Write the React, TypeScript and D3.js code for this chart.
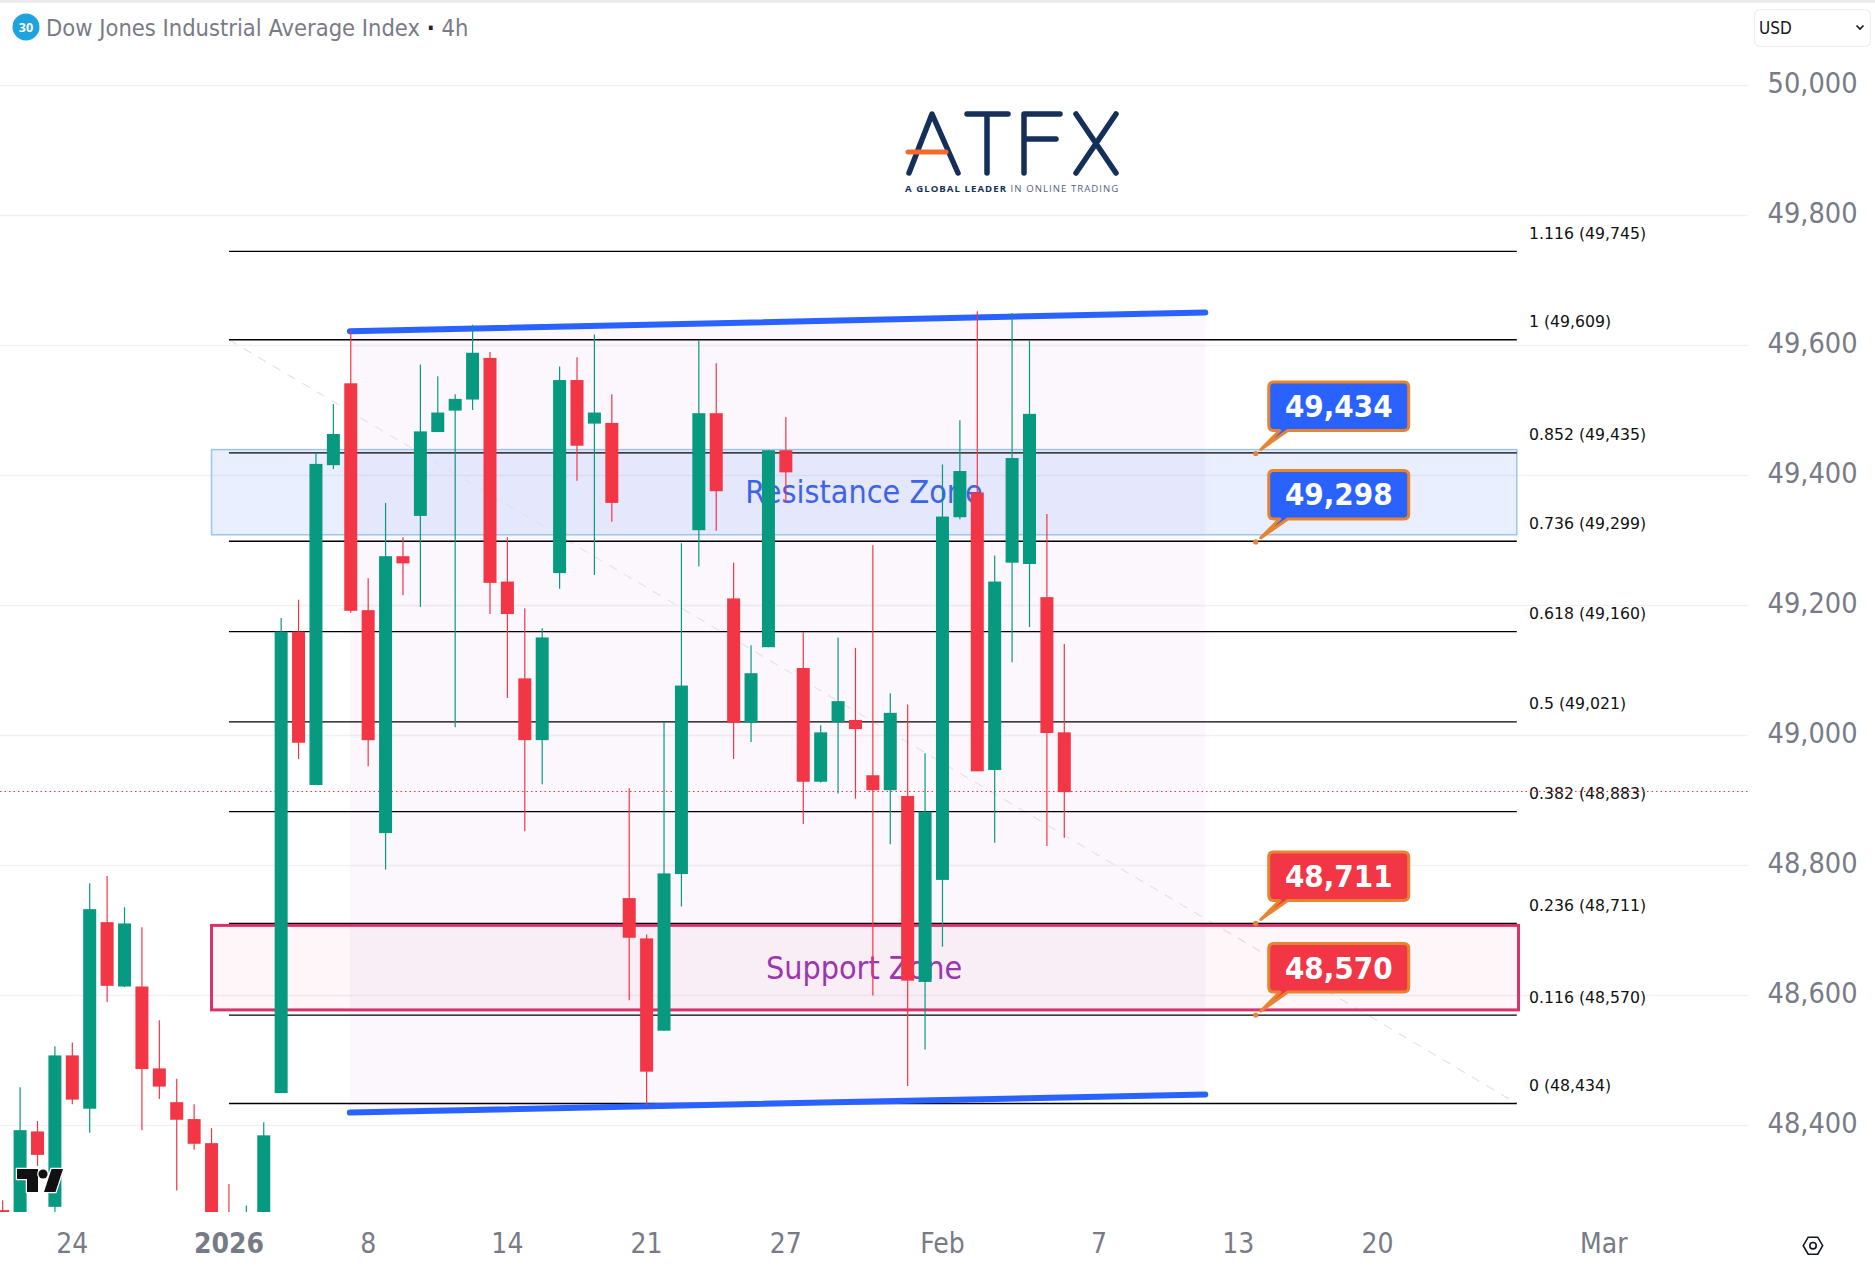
import * as d3 from "d3";

// 4h candles (index 0 is the left-most, cut off by the pane edge)
const opens = [48270, 48200, 48391, 48275, 48508, 48426, 48713, 48614, 48614, 48488, 48436, 48410, 48373, 48250, 48200, 48200,
    48450, 49160, 48924, 49416, 49542, 49193, 48850, 49276, 49338, 49467, 49500, 49517, 49581, 49237, 49088, 48993, 49250, 49547, 49480, 49481,
    48750, 48688, 48546, 48787, 49316, 49496, 49211, 49020, 49136, 49439, 49104, 48929, 49021, 49024, 48939, 48916, 48907, 48621, 48778, 49336,
    49374, 48947, 49266, 49264, 49213, 49005];
const highs = [48285, 48459, 48407, 48522, 48528, 48773, 48784, 48736, 48705, 48562, 48472, 48433, 48396, 48310, 48277, 48405,
    49181, 49209, 49435, 49510, 49623, 49242, 49358, 49305, 49571, 49553, 49525, 49632, 49590, 49305, 49196, 49165, 49568, 49582, 49617, 49525,
    48919, 48694, 49021, 49296, 49608, 49573, 49266, 49139, 49439, 49490, 49159, 49016, 49151, 49135, 49293, 49065, 49048, 48973, 49417, 49485,
    49653, 49277, 49650, 49608, 49341, 49141];
const lows = [48150, 48150, 48338, 48267, 48433, 48389, 48590, 48613, 48393, 48441, 48300, 48363, 48150, 48150, 48150, 48150,
    48450, 48964, 48924, 49410, 49189, 48953, 48794, 49216, 49198, 49467, 49013, 49501, 49187, 49058, 48853, 48925, 49226, 49392, 49247, 49329,
    48593, 48431, 48546, 48737, 49260, 49315, 48964, 48990, 49136, 49358, 48864, 48928, 48911, 48903, 48600, 48833, 48461, 48517, 48675, 49333,
    48945, 48835, 49113, 49167, 48830, 48843];
const closes = [48200, 48393, 48355, 48508, 48440, 48733, 48615, 48711, 48487, 48460, 48409, 48372, 48200, 48200, 48240, 48385,
    49160, 48989, 49418, 49464, 49192, 48993, 49276, 49265, 49468, 49497, 49518, 49589, 49235, 49187, 48993, 49151, 49547, 49446, 49497, 49358,
    48689, 48483, 48788, 49077, 49496, 49376, 49020, 49096, 49439, 49405, 48929, 49005, 49053, 49010, 48916, 49035, 48623, 48883, 49337, 49407,
    48945, 49237, 49427, 49495, 49004, 48913];

const priceTicks = [50000, 49800, 49600, 49400, 49200, 49000, 48800, 48600, 48400];
const timeTickIndex = [4, 13, 21, 29, 37, 45, 54, 63, 71, 79, 92];
const timeTickLabels = ["24", "2026", "8", "14", "21", "27", "Feb", "7", "13", "20", "Mar"];

const fibLevels = ["1.116", "1", "0.852", "0.736", "0.618", "0.5", "0.382", "0.236", "0.116", "0"];
const fibPrices = [49745, 49609, 49435, 49299, 49160, 49021, 48883, 48711, 48570, 48434];

const calloutPrices = [49434, 49298, 48711, 48570];
const calloutFills = ["#2962ff", "#2962ff", "#f23645", "#f23645"];

const channelTop: [number, number][] = [[19.95, 49622], [69.1, 49651]];
const channelBottom: [number, number][] = [[19.95, 48420], [69.1, 48448]];
const fibTrend: [number, number][] = [[13, 49609], [87, 48434]];
const resistanceZone = [49440, 49309];
const supportZone = [48708, 48578];
const lastPrice = 48914;

const up = "#089981";
const down = "#f23645";
const axisText = "#787b86";
const font = "'DejaVu Sans Condensed', 'DejaVu Sans', sans-serif";

export default function App() {
    const width = 1875;
    const height = 1272;
    const paneRight = 1748;
    const paneBottom = 1212;
    const x = d3.scaleLinear([0, 61], [2.7, 1064.3]);
    const y = d3.scaleLinear([48400, 49600], [1125.6, 345.6]);
    const line = d3.line<[number, number]>((d) => x(d[0]), (d) => y(d[1]));
    const fmt = d3.format(",");
    const channel = line([...channelTop, ...channelBottom.slice().reverse()]) + "Z";

    return (
        <svg width={width} height={height} style={{ position: "absolute", left: 0, top: 0, background: "#fff" }} fontFamily={font}>
            <defs>
                <clipPath id="pane"><rect x={0} y={0} width={paneRight + 12} height={paneBottom} /></clipPath>
            </defs>
            <rect x={0} y={0} width={width} height={3} fill="#ebebeb" />

            {/* grid */}
            <g stroke="#f0f1f4" strokeWidth="1.5">
                {priceTicks.map((p) => <line key={p} x1={0} x2={paneRight} y1={y(p)} y2={y(p)} />)}
            </g>

            <path d={channel} fill="#9c27b0" fillOpacity="0.04" />

            <rect x={x(12)} width={x(87) - x(12)} y={y(resistanceZone[0])} height={y(resistanceZone[1]) - y(resistanceZone[0])}
                fill="#2962ff" fillOpacity="0.1" stroke="#9cc5ea" strokeWidth="1.5" />

            {/* fib retracement */}
            <path d={line(fibTrend) ?? ""} stroke="#e2e2e2" strokeWidth="1.1" strokeDasharray="9 8" fill="none" />
            <g stroke="#000" strokeWidth="1.3">
                {fibPrices.map((p) => <line key={p} x1={x(13)} x2={x(87)} y1={y(p)} y2={y(p)} />)}
            </g>
            <g fontFamily="'DejaVu Sans', sans-serif" fontSize="15.7" fill="#111">
                {fibPrices.map((p, i) => (
                    <text key={p} x={1529} y={y(p) - 12.5}>{`${fibLevels[i]} (${fmt(p)})`}</text>
                ))}
            </g>

            <rect x={x(12)} width={x(87.1) - x(12)} y={y(supportZone[0])} height={y(supportZone[1]) - y(supportZone[0])}
                fill="#e91e63" fillOpacity="0.04" stroke="#d6336c" strokeWidth="3" />

            <text x={864} y={y(49400) + 27} textAnchor="middle" fontSize="32" fill="#3d63e6">Resistance Zone</text>
            <text x={864} y={y(48600) - 17} textAnchor="middle" fontSize="32" fill="#9c35ae">Support Zone</text>

            <line x1={0} x2={paneRight} y1={y(lastPrice)} y2={y(lastPrice)} stroke={down} strokeWidth="1" strokeDasharray="1.5 3" />

            {/* channel borders */}
            <g stroke="#2962ff" strokeWidth="6" strokeLinecap="round" fill="none">
                <path d={line(channelTop) ?? ""} />
                <path d={line(channelBottom) ?? ""} />
            </g>

            {/* candles */}
            <g clipPath="url(#pane)">
                {closes.map((c, i) => {
                    const o = opens[i];
                    const color = c >= o ? up : down;
                    const top = y(Math.max(o, c));
                    const bottom = y(Math.min(o, c));
                    return (
                        <g key={i}>
                            <line x1={x(i)} x2={x(i)} y1={y(highs[i])} y2={y(lows[i])} stroke={color} strokeWidth="1.2" />
                            <rect x={x(i) - 6.5} width={13} y={top} height={bottom - top} fill={color} />
                        </g>
                    );
                })}
            </g>

            {/* price callouts */}
            {calloutPrices.map((p, i) => {
                const tipX = x(72);
                const tipY = y(p);
                const top = tipY - 71.5;
                const bottom = tipY - 23;
                const left = tipX + 13;
                const right = tipX + 153;
                const path = `M${left + 5},${top} H${right - 5} Q${right},${top} ${right},${top + 5} V${bottom - 5} Q${right},${bottom} ${right - 5},${bottom}
                    H${left + 19} L${tipX + 5},${tipY - 4} L${left + 11},${bottom} H${left + 5} Q${left},${bottom} ${left},${bottom - 5} V${top + 5} Q${left},${top} ${left + 5},${top} Z`;
                return (
                    <g key={p}>
                        <path d={path} fill={calloutFills[i]} stroke="#e8832f" strokeWidth="3" strokeLinejoin="round" />
                        <circle cx={tipX} cy={tipY} r="2.6" fill="#e8832f" />
                        <text x={(left + right) / 2} y={top + 35} textAnchor="middle" fontSize="31" fontWeight="bold" fill="#fff">{fmt(p)}</text>
                    </g>
                );
            })}

            {/* ATFX logo */}
            <g fill="none" stroke="#14305a" strokeWidth="5.5" strokeLinecap="round" strokeLinejoin="round">
                <path d="M909,173 L932,114 L958,173" />
                <path d="M967,114 H1008 M987,114 V173" />
                <path d="M1024,173 V114 H1060 M1024,139 H1056" />
                <path d="M1076,114 L1116,173 M1116,114 L1076,173" />
                <path d="M908,152 H946" stroke="#f26a2e" strokeWidth="5" />
            </g>
            <text x={905} y={192} fontFamily="'Open Sans', sans-serif" fontSize="9.6" letterSpacing="1.05" fill="#14305a">
                <tspan fontWeight="bold">A GLOBAL LEADER</tspan>
                <tspan fill="#54647f"> IN ONLINE TRADING</tspan>
            </text>

            {/* TradingView mark */}
            <g fill="#111" stroke="#fff" strokeWidth="2.5" paintOrder="stroke">
                <path d="M17,1169 H38 V1192 H27 V1179 H17 Z" />
                <circle cx={43} cy={1174} r="4.6" />
                <path d="M51.5,1169 H63 L55.5,1192 H44 Z" />
            </g>

            {/* header */}
            <circle cx={26} cy={27} r="13.5" fill="#1ea3dc" />
            <text x={26} y={31.5} textAnchor="middle" fontSize="12.5" fontWeight="bold" fontFamily="'Open Sans', sans-serif" fill="#fff">30</text>
            <text x={46} y={36} fontSize="23.5" fill={axisText}>Dow Jones Industrial Average Index <tspan fill="#222" fontWeight="bold">·</tspan> 4h</text>
            <rect x={1754.5} y={9.5} width={116} height={37} rx={6} fill="#fff" stroke="#eeeeee" strokeWidth="1.2" />
            <text x={1759} y={34} fontSize="17" fill="#131722">USD</text>
            <path d="M1856.5,25.5 L1860,29 L1863.5,25.5" fill="none" stroke="#131722" strokeWidth="1.6" />

            {/* price axis */}
            <g fontSize="28.6" fill={axisText} textAnchor="end">
                {priceTicks.map((p) => <text key={p} x={1857.5} y={y(p) + 7.5}>{fmt(p)}</text>)}
            </g>

            {/* time axis */}
            <g fontSize="28" fill={axisText} textAnchor="middle">
                {timeTickIndex.map((t, i) => (
                    <text key={t} x={x(t)} y={1253} fontWeight={timeTickLabels[i] === "2026" ? "bold" : "normal"}>{timeTickLabels[i]}</text>
                ))}
            </g>

            <path d="M1813,1236 L1821.5,1241 V1250.5 L1813,1255.5 L1804.5,1250.5 V1241 Z" transform="rotate(90 1813 1245.7)" fill="none" stroke="#131722" strokeWidth="1.6" />
            <circle cx={1813} cy={1245.7} r="3.2" fill="none" stroke="#131722" strokeWidth="1.6" />
        </svg>
    );
}
